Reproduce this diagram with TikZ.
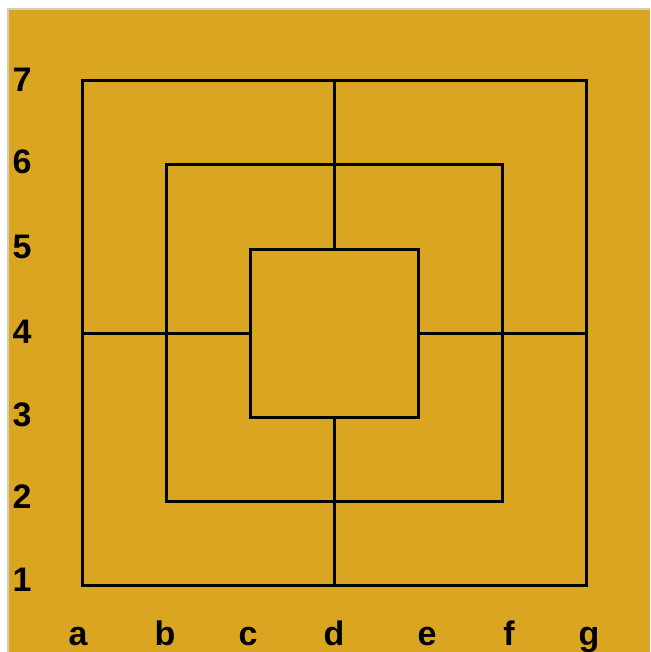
\documentclass[tikz,border=0pt]{standalone}
\usepackage{fontspec}
\setmainfont{Liberation Sans}
\definecolor{board}{HTML}{DAA520}
\definecolor{rim}{HTML}{D8CDB8}
\begin{document}
\begin{tikzpicture}[x=1pt,y=-1pt,
  gridline/.style={line width=3pt,black,line cap=rect},
  lbl/.style={inner sep=0pt,font=\fontsize{34}{34}\selectfont\bfseries}]
\useasboundingbox (0,0) rectangle (650,652);
\fill[white] (0,0) rectangle (650,652);
\fill[board] (8,9) rectangle (650,652);
\draw[rim,line width=1.5pt] (8,652) -- (8,9) -- (650,9);
% coordinates
\foreach \n/\x in {a/82,b/166,c/250,d/334,e/418,f/502,g/586}{
  \foreach \r/\y in {1/585,2/501,3/417,4/333,5/249,6/165,7/81}{
    \coordinate (\n\r) at (\x,\y);
  }}
% squares
\draw[gridline] (a1) -- (g1) -- (g7) -- (a7) -- cycle;
\draw[gridline] (b2) -- (f2) -- (f6) -- (b6) -- cycle;
\draw[gridline] (c3) -- (e3) -- (e5) -- (c5) -- cycle;
% connectors
\draw[gridline] (d7) -- (d5);
\draw[gridline] (d3) -- (d1);
\draw[gridline] (a4) -- (c4);
\draw[gridline] (e4) -- (g4);
% row labels
\foreach \r/\y in {7/80,6/162,5/247,4/332,3/415,2/497,1/580}{
  \node[lbl] (row\r) at (22,\y) {\r};
}
% column labels
\foreach \n/\x in {a/78,b/165,c/248,d/334,e/427,f/509,g/589}{
  \node[lbl,anchor=base] (col\n) at (\x,645) {\n};
}
\end{tikzpicture}
\end{document}
